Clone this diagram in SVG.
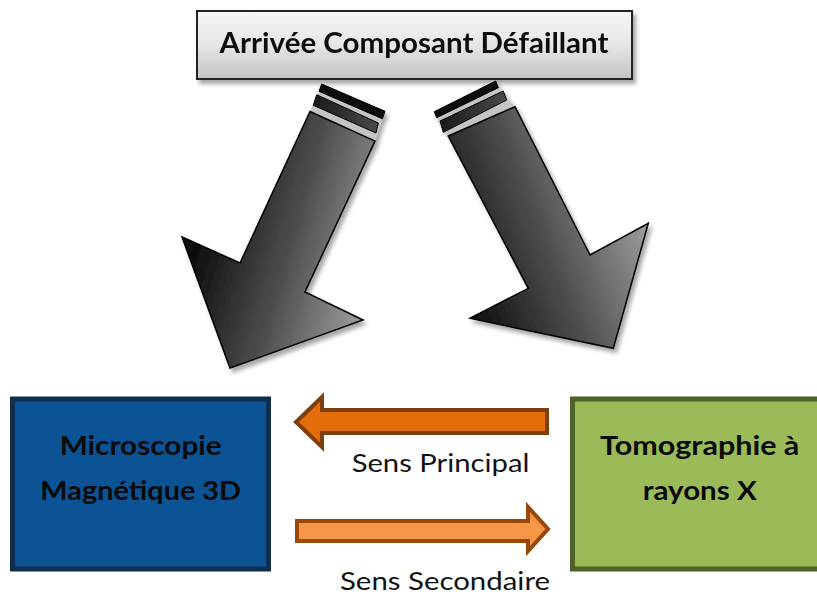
<svg xmlns="http://www.w3.org/2000/svg" width="817" height="599" viewBox="0 0 817 599">
  <defs>
    <style>
      .title { font-family: Lato, "Open Sans", "Liberation Sans", sans-serif; font-weight: 700; fill: #111; text-anchor: middle; }
      .nodetext { font-family: Lato, "Open Sans", "Liberation Sans", sans-serif; font-weight: 700; font-size: 26px; fill: #0a0a0a; text-anchor: middle; }
      .label { font-family: Lato, "Open Sans", "Liberation Sans", sans-serif; font-weight: 400; font-size: 25.5px; fill: #111; text-anchor: middle; }
      .bigarrow { stroke: #000; stroke-width: 1.5; stroke-linejoin: miter; }
      .stripe1 { fill: #0d0d0d; stroke: #000; stroke-width: 1; }
      .stripe2 { stroke: #000; stroke-width: 1; }
      .gap { fill: #c4c4c4; }
    </style>
    <linearGradient id="gTop" x1="0" y1="0" x2="0" y2="1">
      <stop offset="0" stop-color="#f7f7f7"/>
      <stop offset="0.5" stop-color="#e6e6e6"/>
      <stop offset="1" stop-color="#c4c4c4"/>
    </linearGradient>
    <linearGradient id="gLeft" gradientUnits="userSpaceOnUse" x1="195" y1="250" x2="370" y2="300">
      <stop offset="0" stop-color="#0e0e0e"/>
      <stop offset="0.5" stop-color="#4e4e4e"/>
      <stop offset="1" stop-color="#9e9e9e"/>
    </linearGradient>
    <linearGradient id="gRight" gradientUnits="userSpaceOnUse" x1="465" y1="300" x2="645" y2="230">
      <stop offset="0" stop-color="#0e0e0e"/>
      <stop offset="0.5" stop-color="#4e4e4e"/>
      <stop offset="1" stop-color="#999"/>
    </linearGradient>
    <linearGradient id="gStripe" x1="0" y1="0" x2="1" y2="0">
      <stop offset="0" stop-color="#1a1a1a"/>
      <stop offset="1" stop-color="#4a4a4a"/>
    </linearGradient>
    <filter id="shadow" x="-20%" y="-20%" width="140%" height="140%">
      <feDropShadow dx="3" dy="4" stdDeviation="2" flood-color="#000" flood-opacity="0.35"/>
    </filter>
  </defs>

  <g id="node-arrivee" filter="url(#shadow)">
    <rect x="197" y="11" width="435" height="68" fill="url(#gTop)" stroke="#222" stroke-width="2"/>
    <text class="title" x="414" y="53" font-size="29" textLength="389" lengthAdjust="spacingAndGlyphs">Arrivée Composant Défaillant</text>
  </g>

  <g id="connectors">
    <g id="arrow-left" filter="url(#shadow)">
      <polygon class="gap" points="319,91.3 382.3,118.7 375,141 310,111.5"/>
      <polygon class="stripe1" points="321.7,84 385,111.3 382.3,118.7 319,91.3"/>
      <polygon class="stripe2" fill="url(#gStripe)" points="316.7,94.7 378.3,123 376,133 313.3,105.3"/>
      <polygon class="bigarrow" fill="url(#gLeft)" points="310,111.5 375,141 305,292 363,320 230,368 182,237 240,263"/>
    </g>
    <g id="arrow-right" filter="url(#shadow)">
      <polygon class="gap" points="436.7,117.7 498.3,87.7 515,106.7 448.3,136"/>
      <polygon class="stripe1" points="434.3,111.7 495.7,81 498.3,87.7 436.7,117.7"/>
      <polygon class="stripe2" fill="url(#gStripe)" points="440,121 503.3,91 506.7,100 443.3,132.3"/>
      <polygon class="bigarrow" fill="url(#gRight)" points="448.3,136 515,106.7 590,255 648.3,223.3 613.3,348.3 470,318.3 528.3,288.3"/>
    </g>
    <g id="arrow-principal">
      <polygon points="547,410 322,410 322,397 296,422 322,447 322,433 547,433" fill="#e46c0a" stroke="#7f3f0d" stroke-width="4"/>
      <text class="label" x="440.5" y="471.5" textLength="177.7" lengthAdjust="spacingAndGlyphs">Sens Principal</text>
    </g>
    <g id="arrow-secondaire">
      <polygon points="297,521 528,521 528,507 548,529 528,551 528,541 297,541" fill="#f79646" stroke="#984807" stroke-width="4"/>
      <text class="label" x="445" y="590" textLength="210" lengthAdjust="spacingAndGlyphs">Sens Secondaire</text>
    </g>
  </g>

  <g id="node-microscopie">
    <rect x="12.5" y="399" width="256" height="170" fill="#0b5394" stroke="#0f2d4c" stroke-width="5"/>
    <text class="nodetext" x="140.7" y="455" textLength="162" lengthAdjust="spacingAndGlyphs">Microscopie</text>
    <text class="nodetext" x="140.7" y="500" textLength="200.7" lengthAdjust="spacingAndGlyphs">Magnétique 3D</text>
  </g>

  <g id="node-tomographie">
    <rect x="572.5" y="399" width="260" height="170" fill="#9bbb59" stroke="#4f6228" stroke-width="5"/>
    <text class="nodetext" x="699.7" y="455" textLength="199.3" lengthAdjust="spacingAndGlyphs">Tomographie à</text>
    <text class="nodetext" x="699.7" y="500" textLength="114" lengthAdjust="spacingAndGlyphs">rayons X</text>
  </g>
</svg>
